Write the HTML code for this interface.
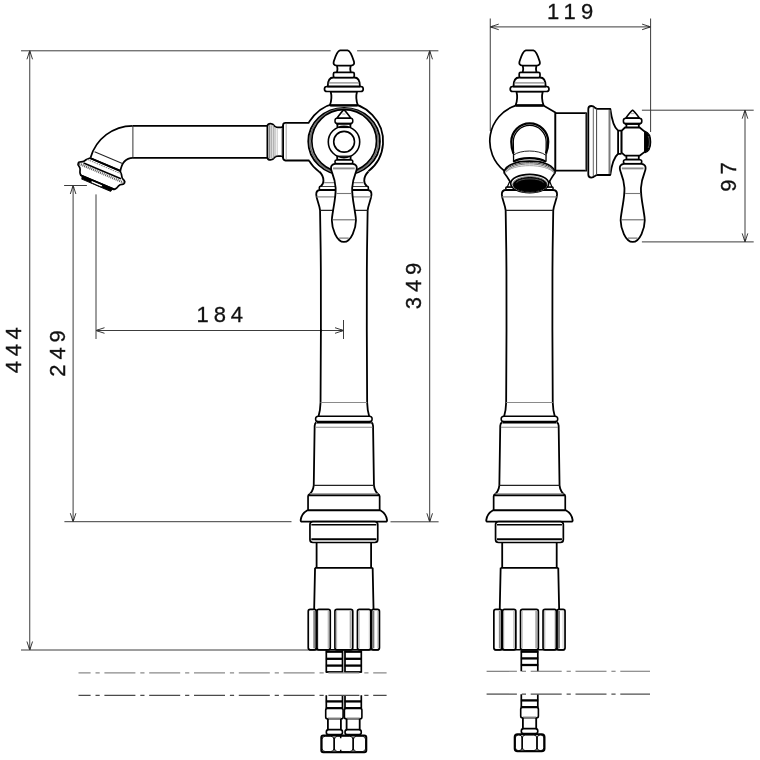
<!DOCTYPE html>
<html lang="en"><head><meta charset="utf-8"><title>Faucet dimensions</title>
<style>
html,body{margin:0;padding:0;background:#fff}
svg{display:block;will-change:transform}
text{font-family:"Liberation Sans",sans-serif;fill:#111;stroke:#111;stroke-width:0.3px;will-change:transform}
path,rect,circle,ellipse{stroke-linecap:butt;stroke-linejoin:round}
</style></head><body>
<svg width="760" height="760" viewBox="0 0 760 760">
<rect x="0" y="0" width="760" height="760" fill="#fff" stroke="none"/>
<path d="M21,50.8L330.6,50.8" fill="none" stroke="#3c3c3c" stroke-width="1"/>
<path d="M357.1,50.8L438.4,50.8" fill="none" stroke="#3c3c3c" stroke-width="1"/>
<path d="M29.75,50.8L29.75,650" fill="none" stroke="#3c3c3c" stroke-width="1"/>
<path d="M32.55,59.3L29.75,50.8L26.95,59.3" fill="none" stroke="#3a3a3a" stroke-width="1"/>
<path d="M30.65,53.4L29.75,50.8L28.85,53.4Z" fill="#333" stroke="#333" stroke-width="0.4"/>
<path d="M26.95,641.5L29.75,650L32.55,641.5" fill="none" stroke="#3a3a3a" stroke-width="1"/>
<path d="M28.85,647.4L29.75,650L30.65,647.4Z" fill="#333" stroke="#333" stroke-width="0.4"/>
<path d="M21,650L308.5,650" fill="none" stroke="#3c3c3c" stroke-width="1"/>
<path d="M64.1,185.5L86.9,185.5" fill="none" stroke="#3c3c3c" stroke-width="1"/>
<path d="M73.1,185.5L73.1,521.7" fill="none" stroke="#3c3c3c" stroke-width="1"/>
<path d="M75.9,194L73.1,185.5L70.3,194" fill="none" stroke="#3a3a3a" stroke-width="1"/>
<path d="M74,188.1L73.1,185.5L72.2,188.1Z" fill="#333" stroke="#333" stroke-width="0.4"/>
<path d="M70.3,513.2L73.1,521.7L75.9,513.2" fill="none" stroke="#3a3a3a" stroke-width="1"/>
<path d="M72.2,519.1L73.1,521.7L74,519.1Z" fill="#333" stroke="#333" stroke-width="0.4"/>
<path d="M64.4,521.7L291.5,521.7" fill="none" stroke="#3c3c3c" stroke-width="1"/>
<path d="M429.7,50.8L429.7,521.8" fill="none" stroke="#3c3c3c" stroke-width="1"/>
<path d="M432.5,59.3L429.7,50.8L426.9,59.3" fill="none" stroke="#3a3a3a" stroke-width="1"/>
<path d="M430.6,53.4L429.7,50.8L428.8,53.4Z" fill="#333" stroke="#333" stroke-width="0.4"/>
<path d="M426.9,513.3L429.7,521.8L432.5,513.3" fill="none" stroke="#3a3a3a" stroke-width="1"/>
<path d="M428.8,519.2L429.7,521.8L430.6,519.2Z" fill="#333" stroke="#333" stroke-width="0.4"/>
<path d="M390.5,521.8L438.6,521.8" fill="none" stroke="#3c3c3c" stroke-width="1"/>
<path d="M490.25,18.5L490.25,131" fill="none" stroke="#3c3c3c" stroke-width="1"/>
<path d="M650.6,18.5L650.6,132" fill="none" stroke="#3c3c3c" stroke-width="1"/>
<path d="M490.25,26.9L650.6,26.9" fill="none" stroke="#3c3c3c" stroke-width="1"/>
<path d="M498.75,24.1L490.25,26.9L498.75,29.7" fill="none" stroke="#3a3a3a" stroke-width="1"/>
<path d="M492.85,26L490.25,26.9L492.85,27.8Z" fill="#333" stroke="#333" stroke-width="0.4"/>
<path d="M642.1,29.7L650.6,26.9L642.1,24.1" fill="none" stroke="#3a3a3a" stroke-width="1"/>
<path d="M648,27.8L650.6,26.9L648,26Z" fill="#333" stroke="#333" stroke-width="0.4"/>
<path d="M641.9,110.2L753.7,110.2" fill="none" stroke="#3c3c3c" stroke-width="1"/>
<path d="M641.9,241.9L753.7,241.9" fill="none" stroke="#3c3c3c" stroke-width="1"/>
<path d="M745,110.2L745,241.9" fill="none" stroke="#3c3c3c" stroke-width="1"/>
<path d="M747.8,118.7L745,110.2L742.2,118.7" fill="none" stroke="#3a3a3a" stroke-width="1"/>
<path d="M745.9,112.8L745,110.2L744.1,112.8Z" fill="#333" stroke="#333" stroke-width="0.4"/>
<path d="M742.2,233.4L745,241.9L747.8,233.4" fill="none" stroke="#3a3a3a" stroke-width="1"/>
<path d="M744.1,239.3L745,241.9L745.9,239.3Z" fill="#333" stroke="#333" stroke-width="0.4"/>
<path d="M326.3,650.5H342.5V672.6H326.3Z" fill="#fff" stroke="none" stroke-width="0"/>
<path d="M326.3,650.5V672.6M342.5,650.5V672.6" fill="none" stroke="#000" stroke-width="1.7"/>
<path d="M325.9,651.7L342.9,651.7" fill="none" stroke="#000" stroke-width="2.3"/>
<path d="M325.9,658.8L342.9,658.8" fill="none" stroke="#000" stroke-width="2.3"/>
<path d="M325.9,665.6L342.9,665.6" fill="none" stroke="#000" stroke-width="2.3"/>
<path d="M325.9,672L342.9,672" fill="none" stroke="#000" stroke-width="1.8"/>
<path d="M326.3,695.2H342.5V708.4H326.3Z" fill="#fff" stroke="none" stroke-width="0"/>
<path d="M326.3,695.2V708.4M342.5,695.2V708.4" fill="none" stroke="#000" stroke-width="1.7"/>
<path d="M325.9,701.4L342.9,701.4" fill="none" stroke="#000" stroke-width="2.3"/>
<path d="M325.9,708.2L342.9,708.2" fill="none" stroke="#000" stroke-width="2.3"/>
<rect x="325.7" y="708.4" width="17.4" height="10.4" rx="1.8" ry="1.8" fill="#fff" stroke="#000" stroke-width="1.6"/>
<path d="M327.8,718.2L341,718.2" fill="none" stroke="#8a8a8a" stroke-width="1.4"/>
<path d="M327.9,718.8V729.8M340.9,718.8V729.8" fill="none" stroke="#000" stroke-width="1.8"/>
<rect x="326.3" y="729.6" width="16.2" height="5" rx="2.4" ry="2.4" fill="#fff" stroke="#000" stroke-width="1.6"/>
<path d="M345,650.5H361.3V672.6H345Z" fill="#fff" stroke="none" stroke-width="0"/>
<path d="M345,650.5V672.6M361.3,650.5V672.6" fill="none" stroke="#000" stroke-width="1.7"/>
<path d="M344.6,651.7L361.7,651.7" fill="none" stroke="#000" stroke-width="2.3"/>
<path d="M344.6,658.8L361.7,658.8" fill="none" stroke="#000" stroke-width="2.3"/>
<path d="M344.6,665.6L361.7,665.6" fill="none" stroke="#000" stroke-width="2.3"/>
<path d="M344.6,672L361.7,672" fill="none" stroke="#000" stroke-width="1.8"/>
<path d="M345,695.2H361.3V708.4H345Z" fill="#fff" stroke="none" stroke-width="0"/>
<path d="M345,695.2V708.4M361.3,695.2V708.4" fill="none" stroke="#000" stroke-width="1.7"/>
<path d="M344.6,701.4L361.7,701.4" fill="none" stroke="#000" stroke-width="2.3"/>
<path d="M344.6,708.2L361.7,708.2" fill="none" stroke="#000" stroke-width="2.3"/>
<rect x="344.4" y="708.4" width="17.5" height="10.4" rx="1.8" ry="1.8" fill="#fff" stroke="#000" stroke-width="1.6"/>
<path d="M346.5,718.2L359.8,718.2" fill="none" stroke="#8a8a8a" stroke-width="1.4"/>
<path d="M346.6,718.8V729.8M359.7,718.8V729.8" fill="none" stroke="#000" stroke-width="1.8"/>
<rect x="345" y="729.6" width="16.3" height="5" rx="2.4" ry="2.4" fill="#fff" stroke="#000" stroke-width="1.6"/>
<path d="M78.5,672.9L386.6,672.9" fill="none" stroke="#8a8a8a" stroke-width="1.3" stroke-dasharray="31 4.9 4.2 4.7" stroke-dashoffset="18.9"/>
<path d="M78.5,695.4L386.6,695.4" fill="none" stroke="#4a4a4a" stroke-width="1.1" stroke-dasharray="31 4.9 4.2 4.7" stroke-dashoffset="18.9"/>
<rect x="321.3" y="735.5" width="45" height="16.8" rx="2" ry="2" fill="#fff" stroke="#000" stroke-width="2"/>
<rect x="322" y="736.2" width="12" height="15.4" rx="3.4" ry="3.4" fill="none" stroke="#000" stroke-width="0.9"/>
<rect x="334.4" y="736.2" width="18.6" height="15.4" rx="3.4" ry="3.4" fill="none" stroke="#000" stroke-width="0.9"/>
<rect x="353.4" y="736.2" width="12.2" height="15.4" rx="3.4" ry="3.4" fill="none" stroke="#000" stroke-width="0.9"/>
<path d="M334.2,737.5L334.2,750.5" fill="none" stroke="#000" stroke-width="1.3"/>
<path d="M353.2,737.5L353.2,750.5" fill="none" stroke="#000" stroke-width="1.3"/>
<path d="M340.7,735.6V738.2M340.7,749.8V752.2" fill="none" stroke="#000" stroke-width="1.5"/>
<path d="M367.85,190C370.15,190.3 371.55,192 371.45,194.6C371.05,200 368.45,204 367.65,210.3C367.35,225 366.95,250 366.85,270L366.8,330C366.85,360 366.95,385 367.15,402.5C367.35,409 368.15,413 369.15,416.2L318.55,416.2C319.55,413 320.35,409 320.55,402.5C320.75,385 320.85,360 320.9,330L320.85,270C320.75,250 320.35,225 320.05,210.3C319.25,204 316.65,200 316.25,194.6C316.15,192 317.55,190.3 319.85,190Z" fill="#fff" stroke="none" stroke-width="0"/>
<path d="M367.85,190C370.15,190.3 371.55,192 371.45,194.6C371.05,200 368.45,204 367.65,210.3C367.35,225 366.95,250 366.85,270L366.8,330C366.85,360 366.95,385 367.15,402.5C367.35,409 368.15,413 369.15,416.2M319.85,190C317.55,190.3 316.15,192 316.25,194.6C316.65,200 319.25,204 320.05,210.3C320.35,225 320.75,250 320.85,270L320.9,330C320.85,360 320.75,385 320.55,402.5C320.35,409 319.55,413 318.55,416.2" fill="none" stroke="#000" stroke-width="1.8"/>
<path d="M319.25,190.2L368.45,190.2" fill="none" stroke="#000" stroke-width="1.6"/>
<path d="M316.55,196.9L371.15,196.9" fill="none" stroke="#8a8a8a" stroke-width="1.2"/>
<path d="M320.15,210.3L367.55,210.3" fill="none" stroke="#222" stroke-width="1.3"/>
<path d="M320.55,402.5L367.15,402.5" fill="none" stroke="#8a8a8a" stroke-width="1"/>
<path d="M371.45,422.2C372.45,423 372.95,424.3 373.05,425.8L373.95,485.3C374.45,490 376.35,493 379.65,495.4L308.05,495.4C311.35,493 313.25,490 313.75,485.3L314.65,425.8C314.75,424.3 315.25,423 316.25,422.2Z" fill="#fff" stroke="none" stroke-width="0"/>
<path d="M371.45,422.2C372.45,423 372.95,424.3 373.05,425.8L373.95,485.3C374.45,490 376.35,493 379.65,495.4M316.25,422.2C315.25,423 314.75,424.3 314.65,425.8L313.75,485.3C313.25,490 311.35,493 308.05,495.4" fill="none" stroke="#000" stroke-width="1.8"/>
<path d="M315.25,427.3L372.45,427.3" fill="none" stroke="#8a8a8a" stroke-width="1.1"/>
<path d="M313.75,485.3L373.95,485.3" fill="none" stroke="#222" stroke-width="1.3"/>
<path d="M309.65,493.9L378.05,493.9" fill="none" stroke="#8a8a8a" stroke-width="1.4"/>
<rect x="315.55" y="416.2" width="56.6" height="5.6" rx="2.8" ry="2.8" fill="#fff" stroke="#000" stroke-width="1.5"/>
<path d="M316.85,422.1L370.85,422.1" fill="none" stroke="#000" stroke-width="2.6"/>
<rect x="308.05" y="495.4" width="71.6" height="14.9" rx="0.8" ry="0.8" fill="#fff" stroke="#000" stroke-width="1.7"/>
<path d="M380.25,510.3C384.05,512.5 386.65,516.5 387.05,520.2C387.15,521.2 386.65,521.6 385.65,521.6L302.05,521.6C301.05,521.6 300.55,521.2 300.65,520.2C301.05,516.5 303.65,512.5 307.45,510.3Z" fill="#fff" stroke="#000" stroke-width="1.8"/>
<rect x="309.95" y="521.6" width="67.8" height="20.9" rx="3" ry="3" fill="#fff" stroke="#000" stroke-width="1.7"/>
<path d="M311.35,524.7L376.35,524.7" fill="none" stroke="#000" stroke-width="1.6"/>
<path d="M311.35,539.2L376.35,539.2" fill="none" stroke="#000" stroke-width="2"/>
<path d="M316.6,542.5V567.8M371.1,542.5V567.8" fill="none" stroke="#000" stroke-width="1.8"/>
<path d="M372.65,567.8L373.55,609.6L314.15,609.6L315.05,567.8Z" fill="#fff" stroke="none" stroke-width="0"/>
<path d="M372.65,567.8L373.55,609.6M315.05,567.8L314.15,609.6" fill="none" stroke="#000" stroke-width="1.8"/>
<path d="M315.05,567.8L372.65,567.8" fill="none" stroke="#000" stroke-width="1.8"/>
<rect x="308.25" y="609.4" width="8" height="40.4" rx="2" ry="2" fill="#fff" stroke="#000" stroke-width="1.7"/>
<rect x="316.95" y="609.4" width="13.3" height="40.4" rx="2" ry="2" fill="#fff" stroke="#000" stroke-width="1.7"/>
<rect x="334.95" y="609.4" width="17.8" height="40.4" rx="2" ry="2" fill="#fff" stroke="#000" stroke-width="1.7"/>
<rect x="357.45" y="609.4" width="13.3" height="40.4" rx="2" ry="2" fill="#fff" stroke="#000" stroke-width="1.7"/>
<rect x="371.45" y="609.4" width="8" height="40.4" rx="2" ry="2" fill="#fff" stroke="#000" stroke-width="1.7"/>
<path d="M308.85,649.8L378.85,649.8" fill="none" stroke="#000" stroke-width="1.5"/>
<path d="M314.25,610.9L314.25,648.3" fill="none" stroke="#888" stroke-width="2"/>
<path d="M328.45,610.9L328.45,648.3" fill="none" stroke="#bbb" stroke-width="1.6"/>
<path d="M318.45,610.9L318.45,648.3" fill="none" stroke="#ddd" stroke-width="1"/>
<path d="M336.45,610.9L336.45,648.3" fill="none" stroke="#bbb" stroke-width="1.4"/>
<path d="M350.65,610.9L350.65,648.3" fill="none" stroke="#aaa" stroke-width="2"/>
<path d="M359.05,610.9L359.05,648.3" fill="none" stroke="#bbb" stroke-width="1.4"/>
<path d="M369.25,610.9L369.25,648.3" fill="none" stroke="#ccc" stroke-width="1"/>
<path d="M373.25,610.9L373.25,648.3" fill="none" stroke="#777" stroke-width="2.2"/>
<path d="M377.45,610.9L377.45,648.3" fill="none" stroke="#ccc" stroke-width="1"/>
<path d="M316.65,610.4L316.65,648.8" fill="none" stroke="#000" stroke-width="1.8"/>
<path d="M371.05,610.4L371.05,648.8" fill="none" stroke="#000" stroke-width="1.8"/>
<rect x="319.35" y="186.3" width="49" height="3.6" rx="1.2" ry="1.2" fill="#fff" stroke="#000" stroke-width="1.6"/>
<path d="M132.6,125.8H267.5M132.9,157.9H267.5" fill="none" stroke="#000" stroke-width="1.7"/>
<path d="M132.9,126L132.9,157.9" fill="none" stroke="#333" stroke-width="1"/>
<path d="M132.6,125.8A43.8,43.8 0 0 0 90.6,157.6" fill="none" stroke="#000" stroke-width="1.7"/>
<path d="M132.9,157.9C126,158 121.5,163 120.2,172" fill="none" stroke="#000" stroke-width="1.7"/>
<path d="M267.4,141.75 V126.35 C267.4,124.55 268.8,123.65 270.6,123.65 C272.6,123.65 273.7,124.75 274.5,125.95 C275.2,126.85 276,127.35 277.5,127.35 H281.3 C282.5,127.35 283.1,126.55 283.1,125.35M267.4,141.75 V157.15 C267.4,158.95 268.8,159.85 270.6,159.85 C272.6,159.85 273.7,158.75 274.5,157.55 C275.2,156.65 276,156.15 277.5,156.15 H281.3 C282.5,156.15 283.1,156.95 283.1,158.15" fill="none" stroke="#000" stroke-width="1.8"/>
<path d="M269.6,125.15L269.6,158.35" fill="none" stroke="#8a8a8a" stroke-width="1.5"/>
<path d="M271.4,125.15L271.4,158.35" fill="none" stroke="#b0b0b0" stroke-width="1.2"/>
<path d="M273.2,125.15L273.2,158.35" fill="none" stroke="#909090" stroke-width="1"/>
<path d="M275,126.95L275,156.55" fill="none" stroke="#a0a0a0" stroke-width="1"/>
<path d="M277.2,128.15L277.2,155.35" fill="none" stroke="#c0c0c0" stroke-width="0.9"/>
<path d="M281.6,128.15L281.6,155.35" fill="none" stroke="#b0b0b0" stroke-width="1"/>
<g transform="translate(101.4,172.95) rotate(23)">
<path d="M16.2,-9.3L19,-6.5L20.7,-4C21.5,-2.8 23,-2.4 23.8,-2C25,-1.5 25.3,-0.8 25.2,0.2C25.1,1.6 24.4,2.2 23.4,2.5C22,3.2 21.3,4.2 20.9,5.2C20.4,6.6 20.3,7.6 19.5,8.6C19,9.3 18.6,9.8 18,10.2L-18,10.2C-18.6,9.8 -19,9.3 -19.5,8.6C-20.3,7.6 -20.4,6.6 -20.9,5.2C-21.3,4.2 -22,3.2 -23.4,2.5C-24.4,2.2 -25.1,1.6 -25.2,0.2C-25.3,-0.8 -25,-1.5 -23.8,-2C-23,-2.4 -21.5,-2.8 -20.7,-4L-19,-6.5L-16.2,-9.3Z" fill="#fff" stroke="#000" stroke-width="1.7"/>
<path d="M-16.4,10.6L-15.6,13.3L15.6,13.3L16.4,10.6Z" fill="#000" stroke="#000" stroke-width="1"/>
<rect x="-6.2" y="10.4" width="12.2" height="2.6" rx="1.1" fill="#fff" stroke="#000" stroke-width="0.9"/>
<path d="M-18.2,10.2L18.2,10.2" fill="none" stroke="#000" stroke-width="1.8"/>
<path d="M-16.2,-9.3L16.2,-9.3" fill="none" stroke="#000" stroke-width="2"/>
<path d="M-14.6,-16.9L15.6,-16.9" fill="none" stroke="#222" stroke-width="1"/>
<path d="M-18.2,-6.9L18.2,-6.9" fill="none" stroke="#777" stroke-width="0.9" stroke-dasharray="1.6 0.9"/>
<path d="M-20.3,-2.2L20.3,-2.2" fill="none" stroke="#000" stroke-width="1.6"/>
<path d="M-24.2,0.2L24.2,0.2" fill="none" stroke="#555" stroke-width="2.4" stroke-dasharray="1.0 0.9"/>
</g>
<path d="M319.3,171.85A39.6,38.6 0 1 1 368.4,171.3" fill="#fff" stroke="#000" stroke-width="1.8"/>
<path d="M368.45,171.5C365.65,174.2 364.25,177 364.25,180.5C364.15,183.5 365.35,185 366.85,186.3L320.85,186.3C322.35,185 323.55,183.5 323.45,180.5C323.45,177 322.05,174.2 319.25,171.5Z" fill="#fff" stroke="none" stroke-width="0"/>
<path d="M368.45,171.5C365.65,174.2 364.25,177 364.25,180.5C364.15,183.5 365.35,185 366.85,186.3M319.25,171.5C322.05,174.2 323.45,177 323.45,180.5C323.55,183.5 322.35,185 320.85,186.3" fill="none" stroke="#000" stroke-width="1.8"/>
<path d="M324.05,182.7L363.65,182.7" fill="none" stroke="#8a8a8a" stroke-width="1.2"/>
<path d="M309.5,122.8H285.5C284,122.8 283.1,123.6 283.1,125V158C283.1,159.4 284,160.3 285.5,160.3H309.5" fill="#fff" stroke="none" stroke-width="1.8"/>
<path d="M309,122.8H285.5C284,122.8 283.1,123.6 283.1,125V158C283.1,159.4 284,160.3 285.5,160.5H309" fill="none" stroke="#000" stroke-width="1.8"/>
<path d="M286.2,123.8L286.2,159.6" fill="none" stroke="#999" stroke-width="0.9"/>
<ellipse cx="344.1" cy="141.4" rx="35.8" ry="33.5" fill="#fff" stroke="#000" stroke-width="1.9"/>
<ellipse cx="344.12" cy="141.2" rx="34.1" ry="32.4" fill="none" stroke="#707070" stroke-width="1.6"/>
<ellipse cx="344.15" cy="140.95" rx="32.35" ry="31.25" fill="none" stroke="#000" stroke-width="1.7"/>
<path d="M357.05,91.5C356.05,95 356.05,100.5 357.85,105.3L329.85,105.3C331.65,100.5 331.65,95 330.65,91.5Z" fill="#fff" stroke="#000" stroke-width="1.8"/>
<path d="M330.25,105.4L357.45,105.4" fill="none" stroke="#000" stroke-width="2.2"/>
<rect x="324.45" y="86.5" width="38.8" height="5" rx="2.5" ry="2.5" fill="#fff" stroke="#000" stroke-width="1.7"/>
<path d="M354.25,77.5C358.05,77.5 359.95,81 359.95,86.5L327.75,86.5C327.75,81 329.65,77.5 333.45,77.5Z" fill="#fff" stroke="#000" stroke-width="1.8"/>
<path d="M328.65,82.9L359.05,82.9" fill="none" stroke="#8a8a8a" stroke-width="1.3"/>
<rect x="333.45" y="72.3" width="20.8" height="5.2" rx="1.5" ry="1.5" fill="#fff" stroke="#000" stroke-width="1.7"/>
<path d="M350.7,65.6C350.15,67.5 350.15,70 350.7,72.3M337,65.6C337.55,67.5 337.55,70 337,72.3" fill="none" stroke="#000" stroke-width="1.8"/>
<path d="M347.6,50.3C350.05,50.8 352.45,56.5 353.95,61.5C354.55,63.6 354.05,65.6 350.7,65.6L337,65.6C333.65,65.6 333.15,63.6 333.75,61.5C335.25,56.5 337.65,50.8 340.1,50.3Z" fill="#fff" stroke="#000" stroke-width="1.8"/>
<path d="M343.9,109.6C346.3,112 349.3,116 350.9,118.2L336.9,118.2C338.5,116 341.5,112 343.9,109.6Z" fill="#fff" stroke="#000" stroke-width="1.5"/>
<path d="M342.3,114L345.5,114" fill="none" stroke="#aaa" stroke-width="1"/>
<path d="M337.4,123.5V127.6M350.4,123.5V127.6" fill="none" stroke="#000" stroke-width="1.8"/>
<rect x="335" y="118.3" width="17.8" height="5.2" rx="2.2" ry="2.2" fill="#fff" stroke="#000" stroke-width="1.5"/>
<path d="M336.3,123.8L351.5,123.8" fill="none" stroke="#000" stroke-width="1.9"/>
<path d="M337.2,155.8V160M350.6,155.8V160" fill="none" stroke="#000" stroke-width="1.8"/>
<path d="M337.2,160L350.6,160" fill="none" stroke="#000" stroke-width="2.2"/>
<rect x="335" y="160" width="17.8" height="3.9" rx="1.6" ry="1.6" fill="#fff" stroke="#000" stroke-width="1.6"/>
<path d="M335.5,163.9L352.3,163.9" fill="none" stroke="#000" stroke-width="2.1"/>
<circle cx="344" cy="141.9" r="15.7" fill="#fff" stroke="#000" stroke-width="1.6"/>
<circle cx="344.1" cy="141.75" r="10.4" fill="none" stroke="#000" stroke-width="1.6"/>
<path d="M337.4,127.5L350.4,127.5" fill="none" stroke="#000" stroke-width="1.2"/>
<path d="M337.3,156.2L350.5,156.2" fill="none" stroke="#000" stroke-width="1.2"/>
<path d="M352.8,163.8C355.1,164.2 356.8,165.8 356.8,167.9C356.8,170 356.2,171.3 355.7,172.6C354.4,176 352.5,181 352.15,188C351.9,196 353.9,205 354.8,211C355.3,214.5 355.95,217 355.95,220.5C355.9,228 351.4,241.9 343.9,241.9C336.4,241.9 331.9,228 331.85,220.5C331.85,217 332.5,214.5 333,211C333.9,205 335.9,196 335.65,188C335.3,181 333.4,176 332.1,172.6C331.6,171.3 331,170 331,167.9C331,165.8 332.7,164.2 335,163.8Z" fill="#fff" stroke="#000" stroke-width="1.8"/>
<path d="M333.1,168.4L354.7,168.4" fill="none" stroke="#8a8a8a" stroke-width="1.9"/>
<path d="M336.3,193.5L351.5,193.5" fill="none" stroke="#777" stroke-width="1.1"/>
<path d="M332.6,219.8L355.2,219.8" fill="none" stroke="#666" stroke-width="1.1"/>
<path d="M339.1,238.1L348.7,238.1" fill="none" stroke="#666" stroke-width="1.1"/>
<path d="M521.3,650.5H537.8V671.3H521.3Z" fill="#fff" stroke="none" stroke-width="0"/>
<path d="M521.3,650.5V671.3M537.8,650.5V671.3" fill="none" stroke="#000" stroke-width="1.7"/>
<path d="M520.9,651.7L538.2,651.7" fill="none" stroke="#000" stroke-width="2.3"/>
<path d="M520.9,658.4L538.2,658.4" fill="none" stroke="#000" stroke-width="2.3"/>
<path d="M520.9,665L538.2,665" fill="none" stroke="#000" stroke-width="2.3"/>
<path d="M521.3,694.2H537.8V707.4H521.3Z" fill="#fff" stroke="none" stroke-width="0"/>
<path d="M521.3,694.2V707.4M537.8,694.2V707.4" fill="none" stroke="#000" stroke-width="1.7"/>
<path d="M520.9,700.4L538.2,700.4" fill="none" stroke="#000" stroke-width="2.3"/>
<path d="M520.9,707.2L538.2,707.2" fill="none" stroke="#000" stroke-width="2.3"/>
<rect x="520.7" y="707.4" width="17.7" height="10.4" rx="1.8" ry="1.8" fill="#fff" stroke="#000" stroke-width="1.6"/>
<path d="M522.8,717.2L536.3,717.2" fill="none" stroke="#8a8a8a" stroke-width="1.4"/>
<path d="M522.9,717.8V728.8M536.2,717.8V728.8" fill="none" stroke="#000" stroke-width="1.8"/>
<rect x="521.3" y="728.6" width="16.5" height="5" rx="2.4" ry="2.4" fill="#fff" stroke="#000" stroke-width="1.6"/>
<path d="M486.6,671.3L650,671.3" fill="none" stroke="#707070" stroke-width="1.1" stroke-dasharray="31 4.9 4.2 4.7" stroke-dashoffset="0.7"/>
<path d="M486.6,694.1L650,694.1" fill="none" stroke="#505050" stroke-width="1.3" stroke-dasharray="31 4.9 4.2 4.7" stroke-dashoffset="0.7"/>
<rect x="514.7" y="734.3" width="29.8" height="17" rx="2.8" ry="2.8" fill="#fff" stroke="#000" stroke-width="2"/>
<rect x="515.4" y="735" width="6.6" height="15.6" rx="3" ry="3" fill="none" stroke="#000" stroke-width="0.9"/>
<rect x="522.4" y="735" width="14.4" height="15.6" rx="3" ry="3" fill="none" stroke="#000" stroke-width="0.9"/>
<rect x="537.2" y="735" width="6.6" height="15.6" rx="3" ry="3" fill="none" stroke="#000" stroke-width="0.9"/>
<path d="M522.2,736.5L522.2,749.5" fill="none" stroke="#000" stroke-width="1.2"/>
<path d="M537,736.5L537,749.5" fill="none" stroke="#000" stroke-width="1.2"/>
<path d="M553.45,190C555.75,190.3 557.15,192 557.05,194.6C556.65,200 554.05,204 553.25,210.3C552.95,225 552.55,250 552.45,270L552.4,330C552.45,360 552.55,385 552.75,402.5C552.95,409 553.75,413 554.75,416.2L504.15,416.2C505.15,413 505.95,409 506.15,402.5C506.35,385 506.45,360 506.5,330L506.45,270C506.35,250 505.95,225 505.65,210.3C504.85,204 502.25,200 501.85,194.6C501.75,192 503.15,190.3 505.45,190Z" fill="#fff" stroke="none" stroke-width="0"/>
<path d="M553.45,190C555.75,190.3 557.15,192 557.05,194.6C556.65,200 554.05,204 553.25,210.3C552.95,225 552.55,250 552.45,270L552.4,330C552.45,360 552.55,385 552.75,402.5C552.95,409 553.75,413 554.75,416.2M505.45,190C503.15,190.3 501.75,192 501.85,194.6C502.25,200 504.85,204 505.65,210.3C505.95,225 506.35,250 506.45,270L506.5,330C506.45,360 506.35,385 506.15,402.5C505.95,409 505.15,413 504.15,416.2" fill="none" stroke="#000" stroke-width="1.8"/>
<path d="M504.85,190.2L554.05,190.2" fill="none" stroke="#000" stroke-width="1.6"/>
<path d="M502.15,196.9L556.75,196.9" fill="none" stroke="#8a8a8a" stroke-width="1.2"/>
<path d="M505.75,210.3L553.15,210.3" fill="none" stroke="#222" stroke-width="1.3"/>
<path d="M506.15,402.5L552.75,402.5" fill="none" stroke="#8a8a8a" stroke-width="1"/>
<path d="M557.05,422.2C558.05,423 558.55,424.3 558.65,425.8L559.55,485.3C560.05,490 561.95,493 565.25,495.4L493.65,495.4C496.95,493 498.85,490 499.35,485.3L500.25,425.8C500.35,424.3 500.85,423 501.85,422.2Z" fill="#fff" stroke="none" stroke-width="0"/>
<path d="M557.05,422.2C558.05,423 558.55,424.3 558.65,425.8L559.55,485.3C560.05,490 561.95,493 565.25,495.4M501.85,422.2C500.85,423 500.35,424.3 500.25,425.8L499.35,485.3C498.85,490 496.95,493 493.65,495.4" fill="none" stroke="#000" stroke-width="1.8"/>
<path d="M500.85,427.3L558.05,427.3" fill="none" stroke="#8a8a8a" stroke-width="1.1"/>
<path d="M499.35,485.3L559.55,485.3" fill="none" stroke="#222" stroke-width="1.3"/>
<path d="M495.25,493.9L563.65,493.9" fill="none" stroke="#8a8a8a" stroke-width="1.4"/>
<rect x="501.15" y="416.2" width="56.6" height="5.6" rx="2.8" ry="2.8" fill="#fff" stroke="#000" stroke-width="1.5"/>
<path d="M502.45,422.1L556.45,422.1" fill="none" stroke="#000" stroke-width="2.6"/>
<rect x="493.65" y="495.4" width="71.6" height="14.9" rx="0.8" ry="0.8" fill="#fff" stroke="#000" stroke-width="1.7"/>
<path d="M565.85,510.3C569.65,512.5 572.25,516.5 572.65,520.2C572.75,521.2 572.25,521.6 571.25,521.6L487.65,521.6C486.65,521.6 486.15,521.2 486.25,520.2C486.65,516.5 489.25,512.5 493.05,510.3Z" fill="#fff" stroke="#000" stroke-width="1.8"/>
<rect x="495.55" y="521.6" width="67.8" height="20.9" rx="3" ry="3" fill="#fff" stroke="#000" stroke-width="1.7"/>
<path d="M496.95,524.7L561.95,524.7" fill="none" stroke="#000" stroke-width="1.6"/>
<path d="M496.95,539.2L561.95,539.2" fill="none" stroke="#000" stroke-width="2"/>
<path d="M502.2,542.5V567.8M556.7,542.5V567.8" fill="none" stroke="#000" stroke-width="1.8"/>
<path d="M558.25,567.8L559.15,609.6L499.75,609.6L500.65,567.8Z" fill="#fff" stroke="none" stroke-width="0"/>
<path d="M558.25,567.8L559.15,609.6M500.65,567.8L499.75,609.6" fill="none" stroke="#000" stroke-width="1.8"/>
<path d="M500.65,567.8L558.25,567.8" fill="none" stroke="#000" stroke-width="1.8"/>
<rect x="493.85" y="609.4" width="8" height="40.4" rx="2" ry="2" fill="#fff" stroke="#000" stroke-width="1.7"/>
<rect x="502.55" y="609.4" width="13.3" height="40.4" rx="2" ry="2" fill="#fff" stroke="#000" stroke-width="1.7"/>
<rect x="520.55" y="609.4" width="17.8" height="40.4" rx="2" ry="2" fill="#fff" stroke="#000" stroke-width="1.7"/>
<rect x="543.05" y="609.4" width="13.3" height="40.4" rx="2" ry="2" fill="#fff" stroke="#000" stroke-width="1.7"/>
<rect x="557.05" y="609.4" width="8" height="40.4" rx="2" ry="2" fill="#fff" stroke="#000" stroke-width="1.7"/>
<path d="M494.45,649.8L564.45,649.8" fill="none" stroke="#000" stroke-width="1.5"/>
<path d="M499.85,610.9L499.85,648.3" fill="none" stroke="#888" stroke-width="2"/>
<path d="M514.05,610.9L514.05,648.3" fill="none" stroke="#bbb" stroke-width="1.6"/>
<path d="M504.05,610.9L504.05,648.3" fill="none" stroke="#ddd" stroke-width="1"/>
<path d="M522.05,610.9L522.05,648.3" fill="none" stroke="#bbb" stroke-width="1.4"/>
<path d="M536.25,610.9L536.25,648.3" fill="none" stroke="#aaa" stroke-width="2"/>
<path d="M544.65,610.9L544.65,648.3" fill="none" stroke="#bbb" stroke-width="1.4"/>
<path d="M554.85,610.9L554.85,648.3" fill="none" stroke="#ccc" stroke-width="1"/>
<path d="M558.85,610.9L558.85,648.3" fill="none" stroke="#777" stroke-width="2.2"/>
<path d="M563.05,610.9L563.05,648.3" fill="none" stroke="#ccc" stroke-width="1"/>
<path d="M502.25,610.4L502.25,648.8" fill="none" stroke="#000" stroke-width="1.8"/>
<path d="M556.65,610.4L556.65,648.8" fill="none" stroke="#000" stroke-width="1.8"/>
<path d="M515.6,105.6A37.5,37.5 0 0 0 504.5,171.0L555.4,171L555.4,112.5L543.4,105.6Z" fill="#fff" stroke="#000" stroke-width="1.7"/>
<path d="M555.4,113.1H586.2V170.7H555.4" fill="#fff" stroke="#000" stroke-width="1.8"/>
<path d="M555.4,112.5L555.4,170.7" fill="none" stroke="#000" stroke-width="1.7"/>
<path d="M542.8,91.5C541.8,95 541.8,100.5 543.6,105.3L515.6,105.3C517.4,100.5 517.4,95 516.4,91.5Z" fill="#fff" stroke="#000" stroke-width="1.8"/>
<path d="M516,105.4L543.2,105.4" fill="none" stroke="#000" stroke-width="2.2"/>
<rect x="510.2" y="86.5" width="38.8" height="5" rx="2.5" ry="2.5" fill="#fff" stroke="#000" stroke-width="1.7"/>
<path d="M540,77.5C543.8,77.5 545.7,81 545.7,86.5L513.5,86.5C513.5,81 515.4,77.5 519.2,77.5Z" fill="#fff" stroke="#000" stroke-width="1.8"/>
<path d="M514.4,82.9L544.8,82.9" fill="none" stroke="#8a8a8a" stroke-width="1.3"/>
<rect x="519.2" y="72.3" width="20.8" height="5.2" rx="1.5" ry="1.5" fill="#fff" stroke="#000" stroke-width="1.7"/>
<path d="M536.45,65.6C535.9,67.5 535.9,70 536.45,72.3M522.75,65.6C523.3,67.5 523.3,70 522.75,72.3" fill="none" stroke="#000" stroke-width="1.8"/>
<path d="M533.35,50.3C535.8,50.8 538.2,56.5 539.7,61.5C540.3,63.6 539.8,65.6 536.45,65.6L522.75,65.6C519.4,65.6 518.9,63.6 519.5,61.5C521,56.5 523.4,50.8 525.85,50.3Z" fill="#fff" stroke="#000" stroke-width="1.8"/>
<path d="M513.5,153.5C512,150 511.3,146 511.3,141.8A18.45,18.45 0 0 1 548.2,141.8C548.2,146 547.5,150 546,153.5" fill="none" stroke="#000" stroke-width="2.3"/>
<path d="M513.6,161.5L513.3,141.8A16.45,16.45 0 0 1 546.2,141.8L546,161.5" fill="none" stroke="#000" stroke-width="1.3"/>
<path d="M513.3,155.3C520,149.6 539,149.6 545.9,155.3" fill="none" stroke="#222" stroke-width="1"/>
<path d="M513.2,161.9C520,156.8 539,156.8 546,161.9" fill="none" stroke="#000" stroke-width="2.1"/>
<path d="M504.3,170.8C506,167.5 510,164.5 514.6,163.2C520,160.4 539,160.4 544.6,163.2C549,164.5 553,167.5 554.9,170.8C555.4,172.2 555,173.2 554.2,174C552,177 551,179 549.6,181.2L548.4,186H511L509.8,181.2C508.4,179 507.4,177 505,174C504.2,173.2 503.8,172.2 504.3,170.8Z" fill="#fff" stroke="#000" stroke-width="1.7"/>
<path d="M505.2,171.0C512,159.8 547,159.8 554,171.0" fill="none" stroke="#444" stroke-width="1"/>
<path d="M505.6,172.0C513,161.2 546,161.2 553.6,172.0" fill="none" stroke="#777" stroke-width="1"/>
<path d="M505.0,173.2C512,163.1 547,163.1 554.2,173.2" fill="none" stroke="#999" stroke-width="0.9"/>
<rect x="505.85" y="186.9" width="47.2" height="2.9" rx="0.8" ry="0.8" fill="#fff" stroke="#000" stroke-width="1.5"/>
<path d="M509.8,181.2L507.3,186.9H512.5Z M549.6,181.2L552,186.9H546.8Z" fill="#fff" stroke="#000" stroke-width="1.2"/>
<ellipse cx="529.7" cy="183.6" rx="19" ry="9.2" fill="#fff" stroke="#000" stroke-width="1.6"/>
<ellipse cx="529.9" cy="184.4" rx="17.4" ry="8" fill="#fff" stroke="#777" stroke-width="0.9"/>
<ellipse cx="530" cy="184.7" rx="16.7" ry="7.3" fill="#000" stroke="#000" stroke-width="1"/>
<path d="M516.5,182.6C520,177.6 540,177.6 543.5,182.6" fill="none" stroke="#666" stroke-width="0.8"/>
<path d="M594.4,108.8H610.3C611.5,118 613.5,127 618.1,130.6V153.8C613.5,157.5 611.5,166 610.3,175H594.4Z" fill="#fff" stroke="#000" stroke-width="1.8"/>
<path d="M609.5,110L609.5,174" fill="none" stroke="#7c7c7c" stroke-width="2"/>
<path d="M596.6,108.8L594.6,107.4C593.8,106.5 592.8,106 591.3,106C589.5,106 588.3,107.2 588.3,109V174.6C588.3,176.4 589.5,177.6 591.3,177.6C592.8,177.6 593.8,177.1 594.6,176.2L596.6,175" fill="#fff" stroke="#000" stroke-width="1.8"/>
<path d="M593.3,107.5L593.3,176.2" fill="none" stroke="#555" stroke-width="0.9"/>
<path d="M596.6,108.8L596.6,175" fill="none" stroke="#444" stroke-width="1"/>
<path d="M585.7,113.5L585.7,170.3" fill="none" stroke="#999" stroke-width="0.8"/>
<path d="M618.1,130.6H621.5M618.1,153.8H621.5" fill="none" stroke="#000" stroke-width="1.8"/>
<path d="M625,127.5H639.6L645,131.9V151.6L639.6,155.7H625L621.5,152.6V130.9Z" fill="#fff" stroke="#000" stroke-width="1.8" stroke-linejoin="round"/>
<path d="M621.5,131L621.5,153" fill="none" stroke="#000" stroke-width="1.4"/>
<path d="M645,131.2C652.6,133.5 652.6,150.5 645,152.6Z" fill="#000" stroke="#000" stroke-width="1.2"/>
<path d="M648.2,136C649.8,139 649.8,145 648.2,148" fill="none" stroke="#666" stroke-width="0.8"/>
<path d="M632.6,110.2C635,112 637.8,116 639.4,118.1L625.8,118.1C627.4,116 630.2,112 632.6,110.2Z" fill="#fff" stroke="#000" stroke-width="1.5"/>
<path d="M630.8,113.6L634.4,113.6" fill="none" stroke="#aaa" stroke-width="1"/>
<path d="M626.4,123.6V127.5M638.8,123.6V127.5" fill="none" stroke="#000" stroke-width="1.8"/>
<rect x="623.4" y="118.2" width="18.4" height="5.4" rx="2.4" ry="2.4" fill="#fff" stroke="#000" stroke-width="1.6"/>
<path d="M624.8,123.9L640.4,123.9" fill="none" stroke="#000" stroke-width="2"/>
<path d="M626.4,155.7V159.6M638.8,155.7V159.6" fill="none" stroke="#000" stroke-width="1.8"/>
<path d="M626.2,159.6L639,159.6" fill="none" stroke="#000" stroke-width="2"/>
<rect x="623.5" y="159.8" width="18.2" height="4.1" rx="1.8" ry="1.8" fill="#fff" stroke="#000" stroke-width="1.6"/>
<path d="M624.2,163.9L641,163.9" fill="none" stroke="#000" stroke-width="2"/>
<path d="M641.6,163.8C643.9,164.2 645.6,165.8 645.6,167.9C645.6,170 645,171.3 644.5,172.6C643.2,176 641.3,181 640.95,188C640.7,196 642.7,205 643.6,211C644.1,214.5 644.75,217 644.75,220.5C644.7,228 640.2,241.9 632.7,241.9C625.2,241.9 620.7,228 620.65,220.5C620.65,217 621.3,214.5 621.8,211C622.7,205 624.7,196 624.45,188C624.1,181 622.2,176 620.9,172.6C620.4,171.3 619.8,170 619.8,167.9C619.8,165.8 621.5,164.2 623.8,163.8Z" fill="#fff" stroke="#000" stroke-width="1.8"/>
<path d="M621.9,168.4L643.5,168.4" fill="none" stroke="#8a8a8a" stroke-width="1.9"/>
<path d="M625.1,193.5L640.3,193.5" fill="none" stroke="#777" stroke-width="1.1"/>
<path d="M621.4,219.8L644,219.8" fill="none" stroke="#666" stroke-width="1.1"/>
<path d="M627.9,238.1L637.5,238.1" fill="none" stroke="#666" stroke-width="1.1"/>
<path d="M96,194.4L96,339" fill="none" stroke="#3c3c3c" stroke-width="1"/>
<path d="M343.5,320L343.5,339" fill="none" stroke="#3c3c3c" stroke-width="1"/>
<path d="M96,330.5L343.5,330.5" fill="none" stroke="#3c3c3c" stroke-width="1"/>
<path d="M104.5,327.7L96,330.5L104.5,333.3" fill="none" stroke="#3a3a3a" stroke-width="1"/>
<path d="M98.6,329.6L96,330.5L98.6,331.4Z" fill="#333" stroke="#333" stroke-width="0.4"/>
<path d="M335,333.3L343.5,330.5L335,327.7" fill="none" stroke="#3a3a3a" stroke-width="1"/>
<path d="M340.9,331.4L343.5,330.5L340.9,329.6Z" fill="#333" stroke="#333" stroke-width="0.4"/>
<path d="M320.9,329.4L320.9,331.6" fill="none" stroke="#000" stroke-width="1.8"/>
<text x="196.4 213.8 230.85" y="321.8" font-size="22">184</text>
<text x="547 563.6 581" y="18.7" font-size="22">119</text>
<text transform="rotate(-90)" x="-373.2 -356.3 -339.4" y="20.5" font-size="22">444</text>
<text transform="rotate(-90)" x="-376.8 -359.6 -342.6" y="64.6" font-size="22">249</text>
<text transform="rotate(-90)" x="-309.2 -292 -275" y="421.3" font-size="22">349</text>
<text transform="rotate(-90)" x="-191.8 -174.4" y="736.4" font-size="22">97</text>
</svg>
</body></html>
